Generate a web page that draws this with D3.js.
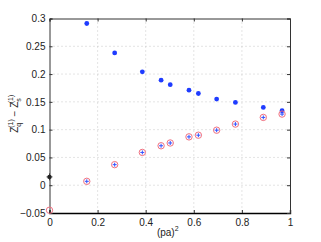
<!DOCTYPE html>
<html>
<head>
<meta charset="utf-8">
<script src="https://cdn.jsdelivr.net/npm/d3@7"></script>
<style>
  body { margin: 0; background: #fff; }
  svg { display: block; }
  .tick text { font-family: "Liberation Sans", Arial, sans-serif; font-size: 10px; fill: #222; }
</style>
</head>
<body>
<div id="chart"></div>
<script>
// data
const pa2 = [0.155, 0.271, 0.386, 0.464, 0.502, 0.580, 0.619, 0.695, 0.773, 0.889, 0.967];
const zUpper = [0.291, 0.238, 0.204, 0.189, 0.181, 0.171, 0.165, 0.155, 0.149, 0.140, 0.134];
const pa2Lower = [0, 0.155, 0.271, 0.386, 0.464, 0.502, 0.580, 0.619, 0.695, 0.773, 0.889, 0.967];
const zLower = [-0.045, 0.007, 0.037, 0.059, 0.071, 0.076, 0.087, 0.090, 0.099, 0.110, 0.122, 0.128];
const extraPoint = [{x: 0, y: 0.015}];
const xTicks = [0, 0.2, 0.4, 0.6, 0.8, 1];
const yTicks = [-0.05, 0, 0.05, 0.1, 0.15, 0.2, 0.25, 0.3];

const FRAME_WIDTH = 321;
const FRAME_HEIGHT = 242;
const MARGINS = {left: 49.5, right: 31, top: 18.5, bottom: 29};
const VIS_WIDTH = FRAME_WIDTH - MARGINS.left - MARGINS.right;
const VIS_HEIGHT = FRAME_HEIGHT - MARGINS.top - MARGINS.bottom;

const FRAME = d3.select("#chart")
  .append("svg")
    .attr("width", FRAME_WIDTH)
    .attr("height", FRAME_HEIGHT);

const X_SCALE = d3.scaleLinear().domain([0, 1]).range([0, VIS_WIDTH]);
const Y_SCALE = d3.scaleLinear().domain([-0.05, 0.3]).range([VIS_HEIGHT, 0]);

const g = FRAME.append("g")
  .attr("transform", "translate(" + MARGINS.left + "," + MARGINS.top + ")");

// dotted grid
g.selectAll(".vgrid").data(xTicks.slice(1, -1)).enter().append("line")
  .attr("x1", d => X_SCALE(d)).attr("x2", d => X_SCALE(d))
  .attr("y1", 0).attr("y2", VIS_HEIGHT)
  .attr("stroke", "#bbb").attr("stroke-width", 0.8).attr("stroke-dasharray", "1,3");
g.selectAll(".hgrid").data(yTicks.slice(1, -1)).enter().append("line")
  .attr("y1", d => Y_SCALE(d)).attr("y2", d => Y_SCALE(d))
  .attr("x1", 0).attr("x2", VIS_WIDTH)
  .attr("stroke", "#bbb").attr("stroke-width", 0.8).attr("stroke-dasharray", "1,3");

// axes with inward ticks
const xAxis = g.append("g")
  .attr("transform", "translate(0," + VIS_HEIGHT + ")")
  .call(d3.axisBottom(X_SCALE).tickValues(xTicks).tickSize(-3).tickPadding(6).tickFormat(d3.format("")));
const yAxis = g.append("g")
  .call(d3.axisLeft(Y_SCALE).tickValues(yTicks).tickSize(-3).tickPadding(4)
    .tickFormat(d => d === 0 ? "0" : d3.format("")(+d.toFixed(2)).replace("-", "\u2212")));
g.append("g")
  .attr("transform", "translate(" + VIS_WIDTH + ",0)")
  .call(d3.axisRight(Y_SCALE).tickValues(yTicks).tickSize(-3).tickFormat(""));
g.append("g")
  .call(d3.axisTop(X_SCALE).tickValues(xTicks).tickSize(-3).tickFormat(""));

g.selectAll(".domain").attr("stroke", "#333");
g.selectAll(".tick line").attr("stroke", "#333");
xAxis.select(".domain").attr("stroke", "#000").attr("stroke-width", 1.4);

// upper series: blue dots
g.selectAll(".up").data(pa2).enter().append("circle")
  .attr("cx", (d, i) => X_SCALE(d))
  .attr("cy", (d, i) => Y_SCALE(zUpper[i]))
  .attr("r", 2.4)
  .attr("fill", "#1f3cff");

// lower series: red circles with blue plus
const low = g.selectAll(".low").data(pa2Lower).enter().append("g")
  .attr("transform", (d, i) => "translate(" + X_SCALE(d) + "," + Y_SCALE(zLower[i]) + ")");
low.filter((d, i) => i > 0).append("path")
  .attr("d", "M-2,0H2M0,-2V2")
  .attr("stroke", "#3050ff").attr("stroke-width", 1);
low.append("circle")
  .attr("r", 3.2)
  .attr("fill", "none")
  .attr("stroke", "#f07080")
  .attr("stroke-width", 1);

// black point at the origin
const ex = g.selectAll(".ex").data(extraPoint).enter().append("g")
  .attr("transform", d => "translate(" + X_SCALE(d.x) + "," + Y_SCALE(d.y) + ")");
ex.append("circle").attr("r", 2.2).attr("fill", "#222");
ex.append("path").attr("d", "M-3,0H3M0,-3.5V3.5").attr("stroke", "#222").attr("stroke-width", 0.8);

// axis labels
const fnt = "'Liberation Sans', Arial, sans-serif";
const xl = FRAME.append("text")
  .attr("x", MARGINS.left + VIS_WIDTH / 2 - 2)
  .attr("y", 236)
  .attr("text-anchor", "middle")
  .attr("font-family", fnt).attr("font-size", 10).attr("fill", "#222");
xl.append("tspan").text("(pa)");
xl.append("tspan").attr("dy", -5).attr("font-size", 7).text("2");

const yl = FRAME.append("text")
  .attr("transform", "translate(18," + (MARGINS.top + VIS_HEIGHT / 2 - 2) + ") rotate(-90)")
  .attr("text-anchor", "middle")
  .attr("font-family", fnt).attr("font-size", 10).attr("fill", "#222");
yl.append("tspan").text("Z");
yl.append("tspan").attr("font-size", 7).attr("dy", 3).text("q");
yl.append("tspan").attr("font-size", 7).attr("dx", -5).attr("dy", -8).text("(1)");
yl.append("tspan").attr("dy", 5).text(" \u2212 Z");
yl.append("tspan").attr("font-size", 7).attr("dy", 3).text("s");
yl.append("tspan").attr("font-size", 7).attr("dx", -5).attr("dy", -8).text("(1)");
</script>
</body>
</html>
